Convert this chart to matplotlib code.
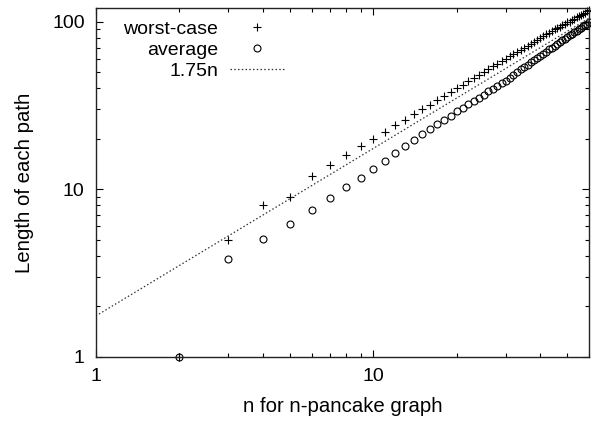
import matplotlib
matplotlib.use("Agg")
import matplotlib.pyplot as plt
from matplotlib.ticker import FuncFormatter, LogLocator, NullFormatter

plt.rcParams['font.family'] = ['Liberation Sans', 'DejaVu Sans']

n_values = list(range(2, 61))
worst_case = [1, 5, 8, 9, 12, 14, 16, 18, 20, 22, 24, 26, 28, 30, 32, 34, 36, 38, 40,
              42, 44, 46, 48, 50, 52, 54, 56, 58, 60, 62, 64, 66, 68, 70, 72, 74, 76, 78, 80,
              82, 84, 86, 88, 90, 91, 93, 95, 97, 99, 100, 102, 104, 106, 108, 109, 111, 113, 115, 117]
average = [1, 3.85, 5.05, 6.2, 7.5, 8.85, 10.25, 11.7, 13.2, 14.75, 16.35, 18.0, 19.65, 21.3,
           22.85, 24.4, 26.0, 27.5, 29.1, 30.6, 32.1, 33.7, 35.2, 36.7, 38.3, 39.8, 41.3, 42.9,
           44.5, 46.3, 48.1, 49.9, 51.8, 53.6, 55.4, 57.2, 59.1, 60.9, 62.7, 64.5, 66.3, 68.2,
           70.0, 71.8, 73.6, 75.4, 77.3, 79.1, 80.9, 82.7, 84.6, 86.4, 88.2, 90.0, 91.8, 93.7,
           95.5, 97.3, 99.1]
line_x = [1, 60]
line_y = [1.75, 105]

fig = plt.figure(figsize=(5.91, 4.21), dpi=100)
ax = fig.add_axes([0.162, 0.1527, 0.835, 0.8275])

ax.plot(n_values, worst_case, linestyle='none', marker='+', markersize=6,
        markeredgewidth=0.8, color='black', label='worst-case', clip_on=False)
ax.plot(n_values, average, linestyle='none', marker='o', markersize=5,
        markerfacecolor='none', markeredgewidth=0.8, color='black', label='average', clip_on=False)
ax.plot(line_x, line_y, linestyle=(0, (1.2, 1.8)), linewidth=0.9, color='#333333', label='1.75n')

ax.set_xscale('log')
ax.set_yscale('log')
ax.set_xlim(1, 60)
ax.set_ylim(1, 120)

fmt = FuncFormatter(lambda v, p: '%g' % v)
for axis in (ax.xaxis, ax.yaxis):
    axis.set_major_locator(LogLocator(base=10, numticks=10))
    axis.set_minor_locator(LogLocator(base=10, subs=range(2, 10), numticks=20))
    axis.set_major_formatter(fmt)
    axis.set_minor_formatter(NullFormatter())

ax.tick_params(which='both', direction='in', top=True, right=True, labelsize=14, width=0.8, color='black')
ax.tick_params(which='major', length=5, pad=8)
ax.tick_params(which='minor', length=3)
for s in ax.spines.values():
    s.set_linewidth(1.0)
    s.set_color('#222222')

ax.set_xlabel('n for n-pancake graph', fontsize=14.7, labelpad=9)
ax.set_ylabel('Length of each path', fontsize=14.7, labelpad=13)

ax.legend(loc='upper left', frameon=False, markerfirst=False, fontsize=14,
          handlelength=2.8, numpoints=1, labelspacing=0.18, borderaxespad=0.2,
          bbox_to_anchor=(0.032, 1.0), handletextpad=0.6)

fig.savefig('out.png', dpi=100)
